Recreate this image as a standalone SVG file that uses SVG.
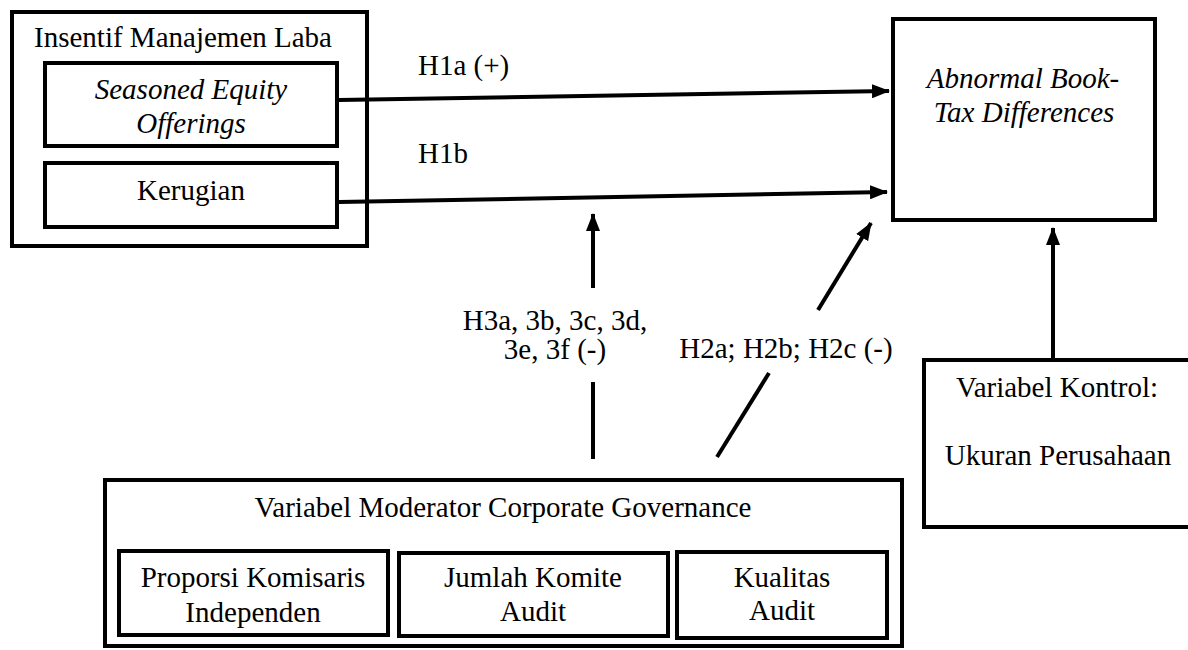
<svg xmlns="http://www.w3.org/2000/svg" width="1188" height="650" viewBox="0 0 1188 650">
<style>
.box{fill:#fff;stroke:#000;stroke-width:4}
.t{font-family:'Liberation Serif','Times New Roman',Times,serif;font-size:29px;fill:#000}
.m{text-anchor:middle}
.i{font-style:italic}
.ln{stroke:#000;stroke-width:4;fill:none}
</style>
<defs>
<marker id="ah" markerUnits="userSpaceOnUse" markerWidth="18" markerHeight="14" refX="17" refY="7" orient="auto">
<path d="M0,0 L18,7 L0,14 Z" fill="#000"/>
</marker>
</defs>
<rect width="1188" height="650" fill="#fff"/>
<g id="insentif">
<rect class="box" x="12" y="12" width="355" height="234"/>
<text class="t m" x="183" y="47">Insentif Manajemen Laba</text>
</g>
<g id="seo">
<rect class="box" x="45" y="63" width="292" height="83"/>
<text class="t m i" x="191" y="99">Seasoned Equity</text>
<text class="t m i" x="191" y="133">Offerings</text>
</g>
<g id="kerugian">
<rect class="box" x="45" y="163" width="292" height="64"/>
<text class="t m" x="191" y="200">Kerugian</text>
</g>
<g id="abtd">
<rect class="box" x="893" y="19" width="262" height="201"/>
<text class="t m i" x="1023" y="88">Abnormal Book-</text>
<text class="t m i" x="1024" y="122">Tax Differences</text>
</g>
<g id="moderator">
<rect class="box" x="105" y="480" width="797" height="166"/>
<text class="t m" x="503" y="517">Variabel Moderator Corporate Governance</text>
</g>
<g id="komisaris">
<rect class="box" x="119" y="551" width="269" height="84"/>
<text class="t m" x="253" y="587">Proporsi Komisaris</text>
<text class="t m" x="253" y="622">Independen</text>
</g>
<g id="komite">
<rect class="box" x="399" y="553" width="269" height="83"/>
<text class="t m" x="533" y="587">Jumlah Komite</text>
<text class="t m" x="533" y="621">Audit</text>
</g>
<g id="kualitas">
<rect class="box" x="677" y="552" width="210" height="86"/>
<text class="t m" x="782" y="587">Kualitas</text>
<text class="t m" x="782" y="620">Audit</text>
</g>
<g id="kontrol">
<rect class="box" x="924" y="360" width="280" height="167"/>
<text class="t m" x="1057" y="397">Variabel Kontrol:</text>
<text class="t m" x="1058" y="465">Ukuran Perusahaan</text>
</g>
<g id="connectors">
<line class="ln" x1="339" y1="100" x2="889" y2="91" marker-end="url(#ah)"/>
<line class="ln" x1="339" y1="202" x2="887" y2="192" marker-end="url(#ah)"/>
<line class="ln" x1="593" y1="288" x2="593" y2="214" marker-end="url(#ah)"/>
<line class="ln" x1="593" y1="382" x2="593" y2="459"/>
<line class="ln" x1="818" y1="310" x2="871" y2="223" marker-end="url(#ah)"/>
<line class="ln" x1="769" y1="373" x2="717" y2="457"/>
<line class="ln" x1="1053" y1="358" x2="1053" y2="228" marker-end="url(#ah)"/>
<text class="t" x="418" y="75">H1a (+)</text>
<text class="t" x="418" y="163">H1b</text>
<text class="t m" x="555" y="330">H3a, 3b, 3c, 3d,</text>
<text class="t m" x="555" y="359">3e, 3f (-)</text>
<text class="t m" x="786" y="358">H2a; H2b; H2c (-)</text>
</g>
</svg>
